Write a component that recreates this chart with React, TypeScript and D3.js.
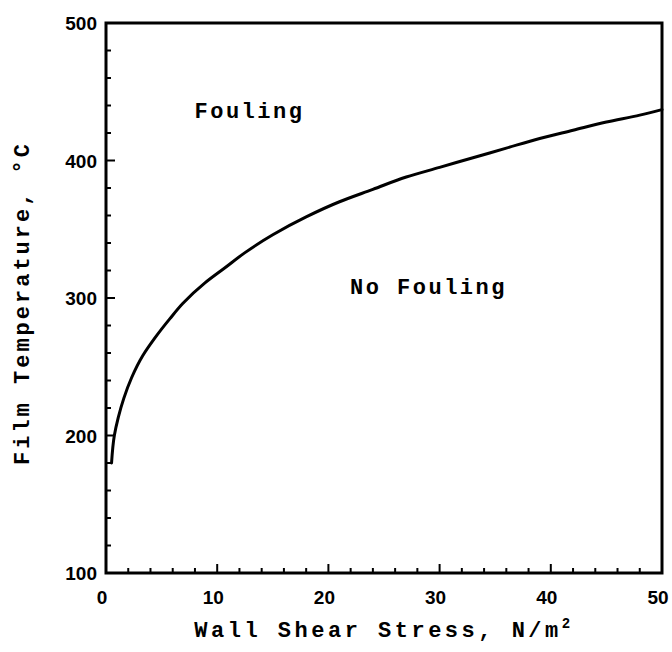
import React, { useEffect, useRef } from 'react';
import * as d3 from 'd3';

// curve: wall shear stress (N/m2) vs film temperature (C)
const stress = [0.5, 0.75, 1.1, 1.6, 2.3, 3.3, 4.4, 5.75, 6.9, 8.9, 10.7, 12.5, 15, 18, 21, 24, 27, 30, 33, 36, 39, 42, 45, 48, 50];
const temp = [180, 200, 213, 227, 242, 258, 271, 285, 296, 311, 322, 333, 346, 359, 370, 379, 388, 395, 402, 409, 416, 422, 428, 433, 437];

const xTicks = [0, 10, 20, 30, 40, 50];
const yTicks = [100, 200, 300, 400, 500];

const regionLabels = [
  { text: 'Fouling', x: 12.9, y: 431 },
  { text: 'No Fouling', x: 29.0, y: 303 },
];

const App: React.FC = () => {
  const svgRef = useRef<SVGSVGElement>(null);

  useEffect(() => {
    const svg = d3.select(svgRef.current);
    svg.selectAll('*').remove();

    const left = 106, right = 662, top = 23, bottom = 573;
    const mono = '"Liberation Mono", "Courier New", monospace';
    const sans = '"Liberation Sans", Arial, sans-serif';

    const x = d3.scaleLinear().domain([0, 50]).range([left, right]);
    const y = d3.scaleLinear().domain([100, 500]).range([bottom, top]);

    // minor ticks (inward)
    svg.append('g')
      .selectAll('line')
      .data(d3.range(0, 51, 2).filter(v => v % 10 !== 0))
      .enter().append('line')
      .attr('x1', d => x(d)).attr('x2', d => x(d))
      .attr('y1', bottom).attr('y2', bottom - 5)
      .attr('stroke', '#000').attr('stroke-width', 2);

    svg.append('g')
      .selectAll('line')
      .data(d3.range(100, 501, 20).filter(v => v % 100 !== 0))
      .enter().append('line')
      .attr('x1', left).attr('x2', left + 5)
      .attr('y1', d => y(d)).attr('y2', d => y(d))
      .attr('stroke', '#000').attr('stroke-width', 2);

    // major ticks
    svg.append('g')
      .selectAll('line')
      .data(xTicks)
      .enter().append('line')
      .attr('x1', d => x(d)).attr('x2', d => x(d))
      .attr('y1', bottom).attr('y2', bottom - 9)
      .attr('stroke', '#000').attr('stroke-width', 2);

    svg.append('g')
      .selectAll('line')
      .data(yTicks)
      .enter().append('line')
      .attr('x1', left).attr('x2', left + 9)
      .attr('y1', d => y(d)).attr('y2', d => y(d))
      .attr('stroke', '#000').attr('stroke-width', 2);

    // frame
    svg.append('rect')
      .attr('x', left).attr('y', top)
      .attr('width', right - left).attr('height', bottom - top)
      .attr('fill', 'none')
      .attr('stroke', '#000')
      .attr('stroke-width', 3);

    // tick labels
    svg.append('g')
      .selectAll('text')
      .data(xTicks)
      .enter().append('text')
      .attr('x', d => x(d) - 4)
      .attr('y', bottom + 31)
      .attr('text-anchor', 'middle')
      .style('font-family', sans)
      .style('font-weight', 'bold')
      .style('font-size', '19px')
      .text(d => d);

    svg.append('g')
      .selectAll('text')
      .data(yTicks)
      .enter().append('text')
      .attr('x', left - 9)
      .attr('y', d => y(d) + 7)
      .attr('text-anchor', 'end')
      .style('font-family', sans)
      .style('font-weight', 'bold')
      .style('font-size', '19px')
      .text(d => d);

    // curve (monotone in y, so the steep start stays clean)
    const pts = stress.map((s, i) => [s, temp[i]] as [number, number]);
    const line = d3.line<[number, number]>()
      .x(d => x(d[0]))
      .y(d => y(d[1]))
      .curve(d3.curveMonotoneY);

    svg.append('path')
      .datum(pts)
      .attr('fill', 'none')
      .attr('stroke', '#000')
      .attr('stroke-width', 3)
      .attr('stroke-linecap', 'round')
      .attr('d', line);

    // region labels
    svg.append('g')
      .selectAll('text')
      .data(regionLabels)
      .enter().append('text')
      .attr('x', d => x(d.x))
      .attr('y', d => y(d.y))
      .attr('text-anchor', 'middle')
      .style('font-family', mono)
      .style('font-weight', 'bold')
      .style('font-size', '22px')
      .style('letter-spacing', '2.5px')
      .text(d => d.text);

    // axis titles
    const xt = svg.append('text')
      .attr('x', (left + right) / 2)
      .attr('y', 637)
      .attr('text-anchor', 'middle')
      .style('font-family', mono)
      .style('font-weight', 'bold')
      .style('font-size', '22px')
      .style('letter-spacing', '3.5px');
    xt.append('tspan').text('Wall Shear Stress, N/m');
    xt.append('tspan').attr('dy', -9).style('font-size', '14px').text('2');

    svg.append('text')
      .attr('transform', `translate(29, ${(top + bottom) / 2 + 5}) rotate(-90)`)
      .attr('text-anchor', 'middle')
      .style('font-family', mono)
      .style('font-weight', 'bold')
      .style('font-size', '22px')
      .style('letter-spacing', '3px')
      .text('Film Temperature, °C');
  }, []);

  return (
    <svg
      ref={svgRef}
      width={672}
      height={652}
      style={{ position: 'absolute', left: 0, top: 0, background: '#fff' }}
    />
  );
};

export default App;
